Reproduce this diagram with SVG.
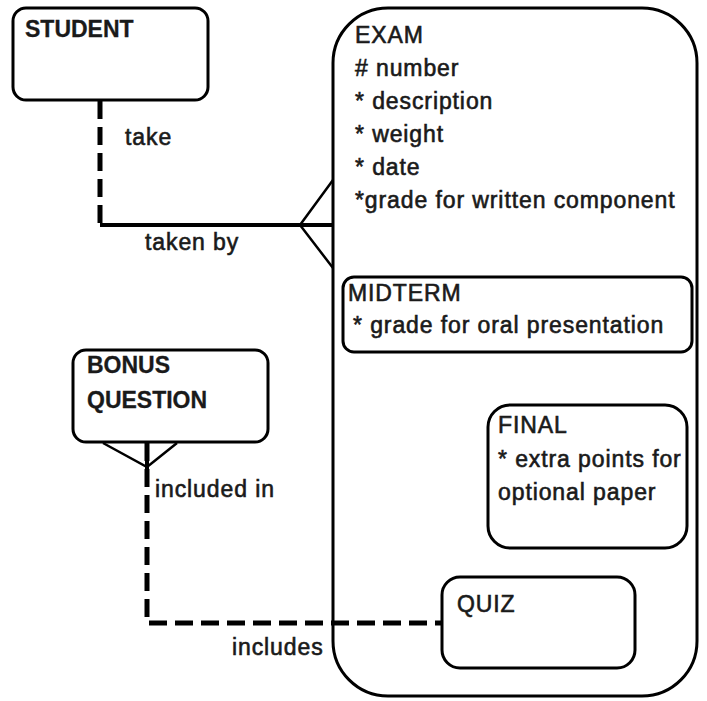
<svg xmlns="http://www.w3.org/2000/svg" width="707" height="701" viewBox="0 0 707 701">
<style>
.box{fill:none;stroke:#000;stroke-width:3}
.t{font-family:"Liberation Sans",Arial,sans-serif;font-size:23px;letter-spacing:0.9px;fill:#1a1a1a;stroke:#1a1a1a;stroke-width:0.6}
.b{font-weight:bold;letter-spacing:0;stroke-width:0.3}
.dash{fill:none;stroke:#000;stroke-width:5;stroke-dasharray:18 8}
.solid{fill:none;stroke:#000;stroke-width:4}
.crow{fill:none;stroke:#000;stroke-width:2.5}
</style>
<rect width="707" height="701" fill="#fff"/>
<g id="connectors">
<path class="dash" d="M100 101 V224"/>
<path class="solid" d="M100 225 H333"/>
<path class="crow" d="M333 180 L300 225 L333 268"/>
<path class="dash" d="M147 443 V623 H442"/>
<path class="crow" d="M103 443 L147 467 L177 443"/>
<path class="solid" d="M147 443 V470"/>
<text class="t" x="125" y="145">take</text>
<text class="t" x="145" y="250">taken by</text>
<text class="t" x="155" y="497">included in</text>
<text class="t" x="232" y="655">includes</text>
</g>
<g id="student">
<rect class="box" x="13" y="8" width="195" height="92" rx="13"/>
<text class="t b" x="25" y="37">STUDENT</text>
</g>
<g id="exam">
<rect class="box" x="333" y="8" width="364" height="688" rx="55"/>
<text class="t" x="355" y="43">EXAM</text>
<text class="t" x="355" y="76"># number</text>
<text class="t" x="355" y="109">* description</text>
<text class="t" x="355" y="142">* weight</text>
<text class="t" x="355" y="175">* date</text>
<text class="t" x="355" y="208">*grade for written component</text>
</g>
<g id="midterm">
<rect class="box" x="343" y="277" width="349" height="75" rx="11"/>
<text class="t" x="348" y="301">MIDTERM</text>
<text class="t" x="353" y="333">* grade for oral presentation</text>
</g>
<g id="final">
<rect class="box" x="488" y="405" width="199" height="143" rx="22"/>
<text class="t" x="498" y="433">FINAL</text>
<text class="t" x="498" y="467">* extra points for</text>
<text class="t" x="498" y="500">optional paper</text>
</g>
<g id="quiz">
<rect class="box" x="442" y="577" width="193" height="91" rx="18"/>
<text class="t" x="457" y="612">QUIZ</text>
</g>
<g id="bonus">
<rect class="box" x="73" y="350" width="195" height="92" rx="13"/>
<text class="t b" x="87" y="373">BONUS</text>
<text class="t b" x="87" y="408">QUESTION</text>
</g>
</svg>
